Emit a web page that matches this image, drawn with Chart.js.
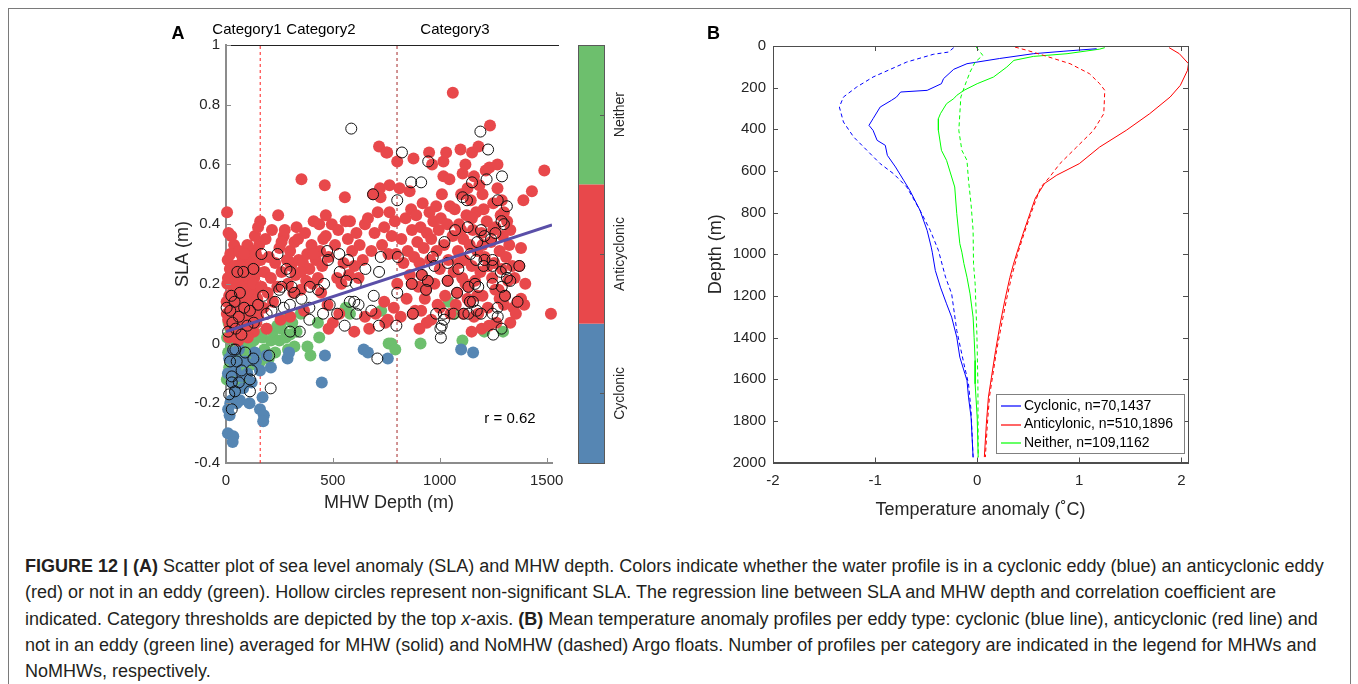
<!doctype html>
<html>
<head>
  <meta charset="utf-8">
  <script src="https://cdn.jsdelivr.net/npm/chart.js@4/dist/chart.umd.min.js"></script>
  <style>
    body { margin: 0; background: #fff; width: 1358px; height: 684px; overflow: hidden; position: relative; font-family: "Liberation Sans", Arial, sans-serif; }
    #frame { position: absolute; left: 8px; top: 8px; width: 1341px; height: 700px; border: 1px solid #7a7a7a; }
    #wa { position: absolute; left: 168px; top: 0; }
    #wb { position: absolute; left: 701px; top: 0; }
    #cap { position: absolute; left: 25px; top: 553px; font-size: 18px; line-height: 26.3px; color: #231f20; white-space: nowrap; }
  </style>
</head>
<body>
  <div id="frame"></div>
  <div id="wa"><canvas id="ca" width="490" height="520"></canvas></div>
  <div id="wb"><canvas id="cb" width="497" height="525"></canvas></div>
  <div id="cap">
    <b>FIGURE 12 | (A)</b> Scatter plot of sea level anomaly (SLA) and MHW depth. Colors indicate whether the water profile is in a cyclonic eddy (blue) an anticyclonic eddy<br>
    (red) or not in an eddy (green). Hollow circles represent non-significant SLA. The regression line between SLA and MHW depth and correlation coefficient are<br>
    indicated. Category thresholds are depicted by the top <i>x</i>-axis. <b>(B)</b> Mean temperature anomaly profiles per eddy type: cyclonic (blue line), anticyclonic (red line) and<br>
    not in an eddy (green line) averaged for MHW (solid) and NoMHW (dashed) Argo floats. Number of profiles per category are indicated in the legend for MHWs and<br>
    NoMHWs, respectively.
  </div>
<script>
// ---- panel A: MHW depth (m) vs SLA (m) ----
const anticyclonic = [
  [5,0.44],[12,0.37],[25,0.36],[8,0.28],[18,0.25],[30,0.22],[6,0.2],[15,0.16],[22,0.13],[4,0.1],[10,0.08],[28,0.06],[35,0.03],[14,0.02],
  [40,0.1],[45,0.18],[50,0.26],[55,0.14],[60,0.07],[65,0.21],[70,0.3],[75,0.12],[80,0.04],[85,0.17],[90,0.24],[95,0.09],[100,0.33],
  [105,0.15],[110,0.06],[115,0.2],[120,0.27],[125,0.11],[130,0.04],[135,0.36],[140,0.18],[145,0.24],[150,0.09],[38,0.33],[48,0.05],
  [58,0.23],[68,0.16],[78,0.28],[88,0.1],[98,0.19],[108,0.26],[118,0.08],[128,0.31],[138,0.13],[20,0.3],[32,0.17],[42,0.26],[52,0.12],
  [62,0.31],[72,0.08],[82,0.22],[92,0.14],[102,0.02],[112,0.29],[122,0.16],[132,0.22],[142,0.07],[3,0.14],[9,0.22],[17,0.06],[27,0.11],
  [33,0.08],[44,0.21],[57,0.01],[66,0.26],[76,0.19],[86,0.3],[96,0.05],[106,0.22],[116,0.13],[126,0.2],[136,0.27],[146,0.15],[155,0.33],
  [160,0.41],[150,0.39],[140,0.3],[162,0.28],[166,0.19],
  [175,0.12],[180,0.24],[185,0.35],[190,0.05],[195,0.17],[200,0.29],[210,0.22],[215,0.38],[220,0.14],[230,0.27],
  [240,0.19],[244,0.43],[250,0.32],[260,0.24],[270,0.36],[275,0.38],[285,0.28],[290,0.2],
  [300,0.31],[305,0.26],[315,0.17],[320,0.34],[325,0.23],[330,0.39],[337,0.35],[340,0.28],[350,0.18],
  [353,0.55],[360,0.27],[370,0.37],[375,0.21],[380,0.3],[390,0.25],[400,0.33],[405,0.2],[410,0.41],
  [420,0.28],[430,0.22],[436,0.4],[440,0.31],[445,0.17],[450,0.26],[260,0.34],[290,0.28],
  [350,0.24],[410,0.3],[300,0.09],[365,0.11],[255,0.08],
  [455,0.35],[462,0.53],[467,0.43],[467,0.36],[475,0.13],[480,0.29],[495,0.4],[500,0.07],[510,0.33],
  [520,0.22],[525,0.38],[530,0.1],[540,0.2],[550,0.27],[556,0.49],[560,0.41],[570,0.35],
  [575,0.23],[580,0.41],[590,0.31],[600,0.26],[610,0.37],[620,0.22],[625,0.33],[640,0.28],
  [650,0.4],[664,0.42],[670,0.05],[680,0.31],[688,0.5],[695,0.37],[700,0.1],
  [710,0.44],[716,0.66],[720,0.52],[723,0.49],[730,0.33],[740,0.39],[745,0.07],[750,0.64],[754,0.64],[757,0.08],
  [760,0.3],[765,0.53],[765,0.44],[775,0.36],[785,0.12],[790,0.41],[795,0.3],[801,0.61],[801,0.2],[812,0.52],
  [817,0.09],[480,0.05],[600,0.04],[650,0.09],[740,0.14],
  [820,0.35],[830,0.27],[840,0.42],[845,0.15],[850,0.31],[859,0.51],[860,0.23],[866,0.45],[870,0.38],[877,0.62],[880,0.29],[885,0.11],
  [890,0.43],[895,0.34],[900,0.19],[905,0.27],[910,0.39],[913,0.11],[916,0.23],[920,0.47],[925,0.32],[930,0.15],[936,0.18],[939,0.07],
  [940,0.37],[944,0.21],[950,0.64],[952,0.44],[955,0.28],[960,0.35],[964,0.6],[970,0.41],[975,0.2],[983,0.46],[985,0.31],[990,0.13],
  [995,0.38],[1000,0.25],[1005,0.42],[1010,0.5],[1017,0.61],[1017,0.56],[1020,0.33],[1025,0.16],[1030,0.64],[1035,0.4],[1037,0.21],
  [1040,0.28],[1045,0.55],[1048,0.46],[1050,0.1],[869,0.2],[874,0.1],[905,0.05],[960,0.08],[1000,0.12],
  [1061,0.84],[1060,0.36],[1065,0.24],[1070,0.45],[1075,0.13],[1081,0.17],[1085,0.31],[1090,0.4],[1097,0.65],[1100,0.5],[1105,0.22],
  [1107,0.57],[1110,0.35],[1115,0.28],[1120,0.6],[1125,0.43],[1130,0.15],[1134,0.19],[1140,0.33],[1141,0.14],[1145,0.48],[1150,0.26],
  [1151,0.64],[1155,0.38],[1160,0.09],[1165,0.21],[1170,0.44],[1175,0.31],[1181,0.66],[1185,0.53],[1190,0.24],[1195,0.37],[1200,0.16],
  [1205,0.45],[1210,0.29],[1215,0.58],[1220,0.41],[1225,0.12],[1232,0.59],[1235,0.73],[1240,0.34],[1245,0.22],[1250,0.47],[1255,0.27],
  [1260,0.39],[1265,0.07],[1270,0.52],[1275,0.18],[1280,0.31],[1285,0.43],[1290,0.25],[1295,0.36],[1300,0.13],[1305,0.16],[1310,0.29],
  [1315,0.41],[1320,0.21],[1325,0.33],[1330,0.38],[1340,0.26],[1345,0.12],[1356,0.1],[1364,0.14],[1372,0.26],[1380,0.32],[1391,0.48],
  [1395,0.13],[1400,0.2],[1431,0.51],[1489,0.58],[1520,0.1],[1149,0.04],[1196,0.05],[1110,0.1],[1180,0.1],[1230,0.06],[1260,0.18],
  [1090,0.27],[1130,0.52],[1160,0.56],[1200,0.5],[1270,0.6],[1290,0.48],[1350,0.22],[1380,0.15],[1100,0.38],[1150,0.42],[1200,0.33],
  [1250,0.38],[1300,0.44],[1120,0.2],[1175,0.16],[1225,0.26],[1280,0.15],[1330,0.07]
];
const neither = [
  [5,0.02],[10,-0.03],[15,-0.08],[20,0.05],[25,-0.01],[30,-0.12],[35,0.01],[40,-0.06],[45,0.03],[50,-0.1],[55,0.05],[60,-0.02],
  [65,-0.07],[70,0.02],[75,-0.13],[80,-0.04],[85,0.04],[90,-0.01],[95,-0.09],[100,0.03],[105,-0.05],[110,0.06],[115,-0.02],[120,-0.07],
  [130,0.01],[140,-0.04],[150,0.03],[160,-0.06],[170,0.02],[180,-0.02],[190,0.05],[200,-0.05],[210,0.01],[220,0.04],[230,-0.03],
  [240,0.06],[250,0.01],[260,0.05],[270,0.08],[280,0.02],[290,-0.02],[300,0.03],[310,0.07],[320,-0.01],[330,0.04],[381,-0.01],
  [395,-0.04],[436,0.02],[430,0.07],[726,0.11],[761,0.0],[773,0.0],[792,-0.02],[910,0.0],[1106,0.01],[1296,0.04],[1208,0.04],
  [1041,0.14],[1069,0.1],[4,-0.12],[12,0.07],[350,0.1],[560,0.12],[580,0.1]
];
const cyclonic = [
  [757,-0.05],[1100,-0.02],[1156,-0.03],[644,-0.02],[664,-0.03],[463,-0.04],[448,-0.13],[288,-0.05],[210,-0.08],[171,-0.18],
  [159,-0.22],[177,-0.24],[174,-0.26],[9,-0.3],[34,-0.31],[31,-0.33],[17,-0.24],[65,-0.19],[42,-0.16],[27,-0.13],[69,-0.06],
  [135,-0.03],[159,-0.09],[9,-0.1],[20,-0.2],[50,-0.2],[80,-0.15],[100,-0.1],[120,-0.13],[60,-0.02],[40,-0.07],[90,-0.06],
  [15,-0.05],[30,-0.03],[110,-0.2],[140,-0.06],[10,-0.22],[25,-0.19],[70,-0.11],[45,-0.09],[190,-0.04],[295,-0.03]
];
const nonSignificant = [
  [586,0.72],[823,0.64],[946,0.61],[1190,0.71],[1226,0.65],[866,0.54],[913,0.54],[688,0.5],[801,0.48],[1151,0.54],[1219,0.55],
  [1291,0.56],[1107,0.49],[1127,0.48],[1271,0.48],[1314,0.46],[1289,0.41],[1300,0.4],[1131,0.39],[1072,0.38],[1193,0.38],[1022,0.34],
  [1209,0.36],[1175,0.34],[1240,0.35],[1260,0.37],[804,0.29],[967,0.29],[975,0.26],[1037,0.27],[1087,0.25],[1143,0.3],[1170,0.28],
  [1209,0.28],[1205,0.26],[1247,0.28],[1247,0.26],[1285,0.24],[1310,0.25],[1372,0.26],[1314,0.22],[1330,0.21],[916,0.23],[944,0.21],
  [936,0.18],[1037,0.21],[1081,0.17],[1134,0.19],[1165,0.2],[1180,0.19],[1247,0.2],[1290,0.19],[1305,0.16],[1364,0.14],[1141,0.14],
  [1155,0.14],[1270,0.12],[869,0.2],[801,0.17],[874,0.1],[983,0.1],[1019,0.1],[1009,0.06],[1003,0.05],[1065,0.1],[1112,0.1],
  [1134,0.1],[1173,0.11],[1193,0.1],[1247,0.1],[1271,0.09],[1289,0.05],[1250,0.03],[797,0.06],[454,0.1],[555,0.06],[610,0.1],
  [680,0.11],[715,0.06],[708,-0.05],[345,0.04],[300,0.04],[166,0.3],[241,0.3],[473,0.31],[477,0.28],[530,0.3],[571,0.28],[724,0.29],
  [128,0.25],[53,0.24],[81,0.24],[283,0.25],[300,0.24],[532,0.24],[652,0.25],[716,0.24],[563,0.21],[607,0.2],[65,0.17],[249,0.18],
  [307,0.19],[392,0.19],[459,0.2],[431,0.18],[320,0.17],[579,0.14],[600,0.14],[620,0.13],[691,0.16],[174,0.16],[353,0.15],[390,0.12],
  [485,0.13],[299,0.13],[213,0.11],[3,0.12],[20,0.11],[112,0.11],[30,0.07],[45,0.05],[60,0.09],[85,0.12],[100,0.06],[130,0.07],
  [25,0.16],[10,0.04],[40,0.14],[72,0.03],[150,0.13],[190,0.1],[230,0.14],[270,0.12],[34,-0.02],[44,-0.02],[128,-0.05],[202,-0.04],
  [120,-0.09],[112,-0.12],[112,-0.16],[27,-0.11],[27,-0.13],[42,-0.16],[27,-0.22],[209,-0.15],[19,-0.06],[73,-0.09],[50,-0.06],
  [90,-0.03],[60,-0.13],[15,-0.17],[1005,0.02],[1020,0.08],[390,0.08],[520,0.1],[260,0.19]
];
const regression = [[0, 0.04], [1525, 0.397]];
const thresholds = [160, 800];
const categoryLabels = ['Category1', 'Category2', 'Category3'];
const categoryPos = [98, 444, 1071];
const depthTicks = [0, 500, 1000, 1500];
const slaTicks = [-0.4, -0.2, 0, 0.2, 0.4, 0.6, 0.8, 1];
const eddyNames = ['Cyclonic', 'Anticyclonic', 'Neither'];
const eddyColors = ['#5686b3', '#e8484b', '#6dbf6d'];

// ---- panel B: [temperature anomaly, depth] ----
const cycMhw = [[1.17,13],[0.85,25],[0.55,37],[0.22,60],[-0.1,85],[-0.23,112],[-0.33,157],[-0.35,181],[-0.49,213],[-0.75,221],
  [-0.79,245],[-0.84,261],[-0.95,293],[-1.02,349],[-1.06,381],[-1.02,405],[-0.98,453],[-0.9,477],[-0.88,525],[-0.8,581],[-0.72,645],
  [-0.66,693],[-0.56,789],[-0.49,886],[-0.45,966],[-0.44,990],[-0.41,1078],[-0.36,1158],[-0.3,1238],[-0.25,1302],[-0.2,1398],
  [-0.17,1494],[-0.12,1574],[-0.1,1606],[-0.085,1686],[-0.06,1782],[-0.05,1878],[-0.04,1975]];
const cycNo = [[-0.23,8],[-0.28,29],[-0.43,40],[-0.69,77],[-1.02,149],[-1.18,197],[-1.31,245],[-1.35,293],[-1.31,365],[-1.21,437],
  [-1.08,501],[-0.95,565],[-0.82,613],[-0.69,677],[-0.56,789],[-0.46,885],[-0.38,981],[-0.31,1110],[-0.25,1190],[-0.2,1366],
  [-0.13,1526],[-0.085,1622],[-0.06,1750],[-0.04,1975]];
const antiMhw = [[1.88,8],[1.98,37],[2.07,85],[2.06,117],[1.99,189],[1.89,245],[1.69,325],[1.46,405],[1.2,485],[1.0,565],[0.78,620],
  [0.66,660],[0.57,730],[0.52,800],[0.45,900],[0.39,992],[0.355,1048],[0.32,1112],[0.27,1223],[0.225,1335],[0.18,1463],[0.14,1590],
  [0.11,1686],[0.09,1814],[0.07,1974]];
const antiNo = [[0.37,5],[0.49,21],[0.65,45],[0.91,85],[1.1,133],[1.2,181],[1.25,213],[1.24,325],[1.14,405],[0.975,485],[0.81,565],
  [0.71,629],[0.62,680],[0.53,800],[0.46,900],[0.4,992],[0.37,1048],[0.335,1112],[0.285,1223],[0.24,1335],[0.19,1463],[0.15,1590],
  [0.12,1686],[0.1,1814],[0.08,1974]];
const neiMhw = [[1.25,8],[1.2,15],[0.88,37],[0.55,50],[0.36,69],[0.29,101],[0.16,149],[0.0,181],[-0.13,213],[-0.2,237],[-0.23,253],
  [-0.3,277],[-0.36,325],[-0.38,349],[-0.38,405],[-0.35,501],[-0.3,549],[-0.25,629],[-0.22,677],[-0.2,805],[-0.17,949],[-0.15,990],
  [-0.13,1045],[-0.1,1110],[-0.07,1190],[-0.04,1302],[-0.03,1400],[-0.02,1510],[-0.02,1622],[0.0,1782],[0.01,1975]];
const neiNo = [[-0.01,5],[0.055,45],[-0.02,77],[-0.07,125],[-0.12,189],[-0.16,245],[-0.18,405],[-0.15,501],[-0.1,549],[-0.085,645],
  [-0.06,760],[-0.04,885],[-0.036,1045],[-0.02,1142],[-0.003,1382],[0.007,1622],[0.01,1975]];
const legendText = ['Cyclonic, n=70,1437', 'Anticylonic, n=510,1896', 'Neither, n=109,1162'];
const tempTicks = [-2, -1, 0, 1, 2];
const zTicks = [0, 200, 400, 600, 800, 1000, 1200, 1400, 1600, 1800, 2000];

Chart.defaults.font.family = '"Liberation Sans", Arial, sans-serif';
Chart.defaults.color = '#262626';

const xy = a => a.map(p => ({x: p[0], y: p[1]}));
const num = v => String(Math.round(v * 10) / 10);

function inTicks(ctx, scale, len, color, both) {
  const a = scale.chart.chartArea;
  ctx.save();
  ctx.strokeStyle = color;
  ctx.lineWidth = 1;
  ctx.beginPath();
  scale.ticks.forEach(t => {
    const p = Math.round(scale.getPixelForValue(t.value)) + 0.5;
    if (scale.isHorizontal()) {
      ctx.moveTo(p, a.bottom); ctx.lineTo(p, a.bottom - len);
      if (both) { ctx.moveTo(p, a.top); ctx.lineTo(p, a.top + len); }
    } else {
      ctx.moveTo(a.left, p); ctx.lineTo(a.left + len, p);
      if (both) { ctx.moveTo(a.right, p); ctx.lineTo(a.right - len, p); }
    }
  });
  ctx.stroke();
  ctx.restore();
}

const decorA = {
  id: 'decorA',
  afterDraw(chart) {
    const ctx = chart.ctx, a = chart.chartArea;
    inTicks(ctx, chart.scales.y, 5, '#8c8c8c', false);
    inTicks(ctx, chart.scales.x, 5, '#8c8c8c', false);
    ctx.save();
    // top axis line runs a bit past the data area
    ctx.strokeStyle = '#222';
    ctx.lineWidth = 1;
    ctx.beginPath();
    ctx.moveTo(a.right, Math.round(a.top) + 0.5);
    ctx.lineTo(a.right + 7, Math.round(a.top) + 0.5);
    ctx.stroke();
    // colorbar
    const cx = 410, cw = 26, h = (a.bottom - a.top) / 3;
    for (let i = 0; i < 3; i++) {
      ctx.fillStyle = eddyColors[i];
      ctx.fillRect(cx, a.bottom - (i + 1) * h, cw, h);
    }
    ctx.strokeStyle = '#5a5a5a';
    ctx.strokeRect(cx + 0.5, a.top + 0.5, cw, a.bottom - a.top);
    ctx.fillStyle = '#262626';
    ctx.font = '14px "Liberation Sans", Arial';
    ctx.textAlign = 'center';
    ctx.textBaseline = 'middle';
    for (let i = 0; i < 3; i++) {
      const yc = a.bottom - (i + 0.5) * h;
      ctx.beginPath();
      ctx.moveTo(cx + cw - 4, Math.round(yc) + 0.5);
      ctx.lineTo(cx + cw, Math.round(yc) + 0.5);
      ctx.stroke();
      ctx.save();
      ctx.translate(452, yc);
      ctx.rotate(-Math.PI / 2);
      ctx.fillText(eddyNames[i], 0, 0);
      ctx.restore();
    }
    ctx.font = '15px "Liberation Sans", Arial';
    ctx.fillStyle = '#000';
    ctx.fillText('r = 0.62', 342, 419);
    ctx.font = 'bold 18px "Liberation Sans", Arial';
    ctx.fillText('A', 10, 34);
    ctx.restore();
  }
};

new Chart(document.getElementById('ca'), {
  type: 'scatter',
  data: {
    datasets: [
      ...thresholds.map((t, i) => ({
        data: [{x: t, y: -0.4}, {x: t, y: 1}], showLine: true, pointRadius: 0,
        borderColor: i === 0 ? '#ff2020' : '#a52a2a', borderWidth: 1, borderDash: [3, 3], order: 10
      })),
      {data: xy(neither), pointRadius: 6, backgroundColor: eddyColors[2], borderWidth: 0, order: 9, clip: false},
      {data: xy(cyclonic), pointRadius: 6, backgroundColor: eddyColors[0], borderWidth: 0, order: 8, clip: false},
      {data: xy(anticyclonic), pointRadius: 6, backgroundColor: eddyColors[1], borderWidth: 0, order: 7, clip: false},
      {data: xy(nonSignificant), pointRadius: 5.5, backgroundColor: 'rgba(0,0,0,0)', borderColor: '#111', borderWidth: 1, order: 2, clip: false},
      {data: xy(regression), showLine: true, pointRadius: 0, borderColor: '#5a4fa8', borderWidth: 3, order: 1}
    ]
  },
  options: {
    responsive: false,
    animation: false,
    events: [],
    layout: {padding: {top: 0, right: 106, left: 0, bottom: 0}},
    plugins: {legend: {display: false}, tooltip: {enabled: false}},
    scales: {
      x: {
        type: 'linear', position: 'bottom', min: 0, max: 1525,
        afterBuildTicks: s => { s.ticks = depthTicks.map(v => ({value: v})); },
        afterFit: s => { s.height = 57; },
        grid: {display: false, drawTicks: false},
        border: {color: '#8c8c8c', width: 2},
        ticks: {padding: 9, font: {size: 15}, maxRotation: 0, callback: v => String(v)},
        title: {display: true, text: 'MHW Depth (m)', font: {size: 18}, padding: {top: 0, bottom: 6}}
      },
      x2: {
        type: 'linear', position: 'top', min: 0, max: 1525,
        afterBuildTicks: s => { s.ticks = categoryPos.map(v => ({value: v})); },
        afterFit: s => { s.height = 45; },
        grid: {display: false, drawTicks: false},
        border: {color: '#222', width: 1},
        ticks: {padding: 6, autoSkip: false, maxRotation: 0, color: '#000', font: {size: 15}, callback: (v, i) => categoryLabels[i]}
      },
      y: {
        min: -0.4, max: 1,
        afterBuildTicks: s => { s.ticks = slaTicks.map(v => ({value: v})); },
        afterFit: s => { s.width = 58; },
        grid: {display: false, drawTicks: false},
        border: {color: '#8c8c8c', width: 2},
        ticks: {padding: 6, font: {size: 15}, callback: num},
        title: {display: true, text: 'SLA (m)', font: {size: 18}, padding: {top: 4, bottom: 0}}
      }
    }
  },
  plugins: [decorA]
});

const decorB = {
  id: 'decorB',
  afterDraw(chart) {
    const ctx = chart.ctx, a = chart.chartArea;
    inTicks(ctx, chart.scales.x, 5, '#4d4d4d', true);
    inTicks(ctx, chart.scales.y, 5, '#4d4d4d', true);
    ctx.save();
    ctx.strokeStyle = '#4d4d4d';
    ctx.lineWidth = 1;
    ctx.strokeRect(Math.round(a.left) + 0.5, Math.round(a.top) + 0.5, Math.round(a.right - a.left), Math.round(a.bottom - a.top));
    // legend
    ctx.fillStyle = '#fff';
    ctx.fillRect(295, 394, 188, 59);
    ctx.strokeStyle = '#808080';
    ctx.strokeRect(295.5, 394.5, 188, 59);
    const cols = ['#0000ff', '#ff0000', '#00ff00'];
    ctx.font = '14px "Liberation Sans", Arial';
    ctx.textBaseline = 'middle';
    ctx.fillStyle = '#000';
    legendText.forEach((t, i) => {
      const yy = 406 + i * 18.5;
      ctx.strokeStyle = cols[i];
      ctx.lineWidth = 1.2;
      ctx.beginPath();
      ctx.moveTo(300, Math.round(yy));
      ctx.lineTo(320, Math.round(yy));
      ctx.stroke();
      ctx.fillText(t, 323, yy);
    });
    ctx.font = 'bold 18px "Liberation Sans", Arial';
    ctx.fillText('B', 6, 34);
    ctx.restore();
  }
};

const prof = (d, c, dash) => ({data: xy(d), showLine: true, pointRadius: 0, borderColor: c, borderWidth: 1, borderDash: dash ? [4, 3] : []});

new Chart(document.getElementById('cb'), {
  type: 'scatter',
  data: {
    datasets: [
      prof(cycNo, '#0000ff', true), prof(antiNo, '#ff0000', true), prof(neiNo, '#00ff00', true),
      prof(cycMhw, '#0000ff', false), prof(antiMhw, '#ff0000', false), prof(neiMhw, '#00ff00', false)
    ]
  },
  options: {
    responsive: false,
    animation: false,
    events: [],
    layout: {padding: {top: 46, right: 10, left: 0, bottom: 0}},
    plugins: {legend: {display: false}, tooltip: {enabled: false}},
    scales: {
      x: {
        type: 'linear', min: -2, max: 2.065,
        afterBuildTicks: s => { s.ticks = tempTicks.map(v => ({value: v})); },
        afterFit: s => { s.height = 62.5; },
        grid: {display: false, drawTicks: false},
        border: {color: '#4d4d4d', width: 1},
        ticks: {padding: 9, font: {size: 15}, maxRotation: 0, callback: v => String(v)},
        title: {display: true, text: 'Temperature anomaly (\u02DAC)', font: {size: 18}, padding: {top: 0, bottom: 4}}
      },
      y: {
        reverse: true, min: 0, max: 2000,
        afterBuildTicks: s => { s.ticks = zTicks.map(v => ({value: v})); },
        afterFit: s => { s.width = 72; },
        grid: {display: false, drawTicks: false},
        border: {color: '#4d4d4d', width: 1},
        ticks: {padding: 7, font: {size: 15}, callback: v => String(v)},
        title: {display: true, text: 'Depth (m)', font: {size: 18}, padding: {top: 4, bottom: 0}}
      }
    }
  },
  plugins: [decorB]
});
</script>
</body>
</html>
